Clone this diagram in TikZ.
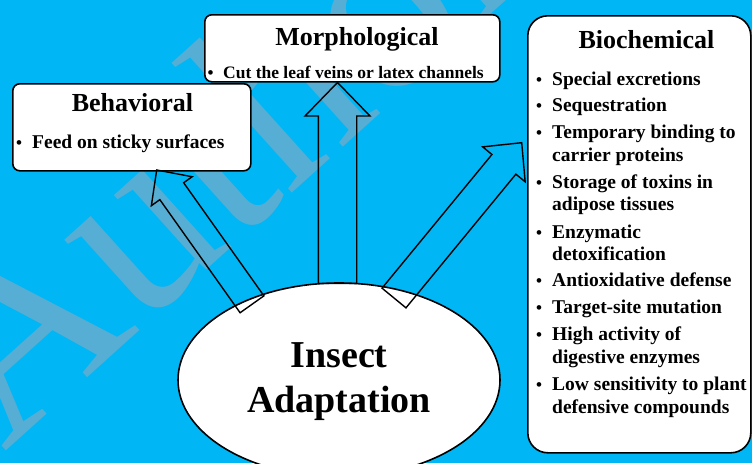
\documentclass[tikz,border=0pt]{standalone}
\usepackage{fontspec}
\setmainfont{Liberation Serif}
\usetikzlibrary{calc,shapes.geometric}
\definecolor{bgblue}{RGB}{0,182,245}
\definecolor{wmblue}{RGB}{86,174,212}
% #1 name, #2 tail, #3 tip, #4 shaft half width, #5 head half width, #6 head length
\newcommand\blockarrow[6]{%
  \coordinate (#1-h) at ($(#3)!#6!(#2)$);
  \draw[arrowline] ($(#2)!#4!-90:(#3)$) -- ($(#1-h)!#4!90:(#2)$) -- ($(#1-h)!#5!90:(#2)$)
    -- (#3) -- ($(#1-h)!#5!-90:(#2)$) -- ($(#1-h)!#4!-90:(#2)$) -- ($(#2)!#4!90:(#3)$) -- cycle;
}
\begin{document}
\begin{tikzpicture}[x=1pt,y=-1pt,
  box/.style={draw=black, line width=1.6pt, fill=white, rounded corners=7pt, inner sep=0pt, anchor=north west},
  arrowline/.style={draw=black, line width=1.4pt, line join=miter},
  title/.style={font=\fontsize{26}{30}\selectfont\bfseries, inner sep=0pt, anchor=base},
  item/.style={font=\fontsize{19.5}{23}\selectfont\bfseries, inner sep=0pt, anchor=base west},
  smallitem/.style={font=\fontsize{17.5}{21}\selectfont\bfseries, inner sep=0pt, anchor=base west},
  bul/.style={font=\fontsize{17}{17}\selectfont\bfseries, inner sep=0pt, anchor=base},
  big/.style={font=\fontsize{38}{45}\selectfont\bfseries, inner sep=0pt, anchor=base},
  wm/.style={font=\fontsize{255}{255}\selectfont, text=wmblue, inner sep=0pt, anchor=base west}
]
\useasboundingbox (0,0) rectangle (752,463);
\clip (0,0) rectangle (752,463);
\fill[bgblue] (0,0) rectangle (752,463);

% watermark
\node[wm, rotate=42] (wmark) at (4,453) {Author};

% boxes
\node[box, minimum width=238pt, minimum height=87pt] (behav) at (12,83) {};
\node[box, minimum width=295pt, minimum height=67pt] (morph) at (204,14) {};
\node[box, rounded corners=20pt, minimum width=223pt, minimum height=437pt] (bio) at (527,15) {};

% ellipse
\node[ellipse, draw=black, line width=1.6pt, fill=white, inner sep=0pt,
      minimum width=322pt, minimum height=194pt] (ia) at (339,380) {};
\node[big] (iaT1) at (339,367) {Insect};
\node[big] (iaT2) at (339,412) {Adaptation};

% titles
\node[title] (behavT) at (132.5,111.7) {Behavioral};
\node[title] (morphT) at (357,45) {Morphological};
\node[title] (bioT) at (646.5,48.3) {Biochemical};

% behavioral item
\node[bul] (bbul) at (19,148) {•};
\node[item] (bitem) at (32,148) {Feed on sticky surfaces};

% morphological item
\node[bul] (mbul) at (210.7,78) {•};
\node[smallitem] (mitem) at (223,78) {Cut the leaf veins or latex channels};

% biochemical items
\foreach \y/\b/\t [count=\i] in {85/1/Special excretions, 111.7/1/Sequestration,
  138.3/1/Temporary binding to, 161.7/0/carrier proteins,
  188.3/1/Storage of toxins in, 210.7/0/adipose tissues,
  238.3/1/Enzymatic, 260.7/0/detoxification,
  286.7/1/Antioxidative defense, 313.3/1/Target-site mutation,
  340/1/High activity of, 363.3/0/digestive enzymes,
  390/1/Low sensitivity to plant, 413.3/0/defensive compounds}{
  \node[item] (bio\i) at (552,\y) {\t};
  \ifnum\b=1 \node[bul] (biob\i) at (539,\y) {•}; \fi
}

% arrow end points
\coordinate (tailL) at (252,304.3);
\coordinate (tipL) at (156.7,170);
\coordinate (tailV) at (337.5,283.5);
\coordinate (tipV) at (337.5,82.5);
\coordinate (tailR) at (394,298);
\coordinate (tipR) at (521.7,142.7);

\blockarrow{arL}{tailL}{tipL}{14.6pt}{25pt}{26pt}
\blockarrow{arV}{tailV}{tipV}{19.2pt}{32.5pt}{33.5pt}
\blockarrow{arR}{tailR}{tipR}{15.5pt}{27.5pt}{28pt}
\end{tikzpicture}
\end{document}
